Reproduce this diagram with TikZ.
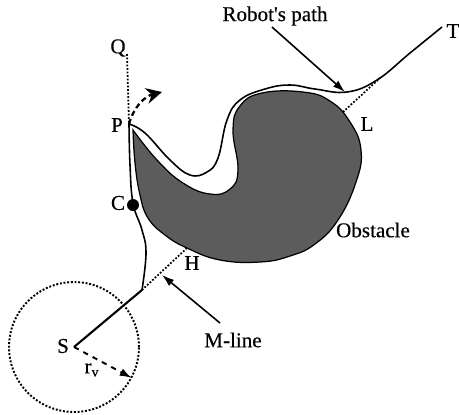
\documentclass[tikz,border=0pt]{standalone}
\usepackage{fontspec}
\setmainfont{Liberation Serif}
\newfontfamily\scanfont{Liberation Serif}[FakeBold=0.35]
\usetikzlibrary{arrows.meta,positioning,calc}

\begin{document}
\begin{tikzpicture}[
  x=0.02cm, y=-0.02cm,
  lbl/.style={inner sep=0pt, font=\scanfont\fontsize{12}{14}\selectfont},
  pathline/.style={line width=0.9pt, line join=round},
  mline/.style={densely dotted, line width=1pt},
  pointer/.style={-{Latex[length=7pt,width=4.5pt]}, line width=0.9pt},
  obstacle/.style={draw=black, line width=0.7pt, fill=black!64}
]
\useasboundingbox (0,0) rectangle (459,414);
% key points
\coordinate (S) at (74,347);
\coordinate (Leave) at (142,290);
\coordinate (H) at (187,248);
\coordinate (L) at (343,112);
\coordinate (Rejoin) at (380,78);
\coordinate (T) at (442,27);
\coordinate (P) at (129,124);
\coordinate (Qend) at (127,54);
\coordinate (Turn) at (162,92);
\coordinate (Rim) at (132,378);
% obstacle
\draw[obstacle] plot[smooth, tension=0.75] coordinates {(133,130) (157,160) (183,183) (210,194) (230,189) (238,170) (233,130) (240,106) (262,93) (303,92) (330,101) (350,122) (361,150) (356,182) (338,220) (315,244) (290,256) (260,262) (220,260) (187,248) (165,235) (148,218) (140,195) (135,163) (133,130)} -- cycle;
% robot's path
\draw[pathline] plot[smooth, tension=0.7] coordinates {(Leave) (146,253) (142,230) (133,203) (130,165) (P)};
\draw[pathline] plot[smooth, tension=0.7] coordinates {(P) (145,133) (170,160) (190,175) (207,172) (218,158) (227,120) (240,100) (265,89) (290,85) (315,89) (347,92) (377,80) (410,53) (T)};
\draw[pathline, line width=1.2pt] (S) -- (Leave);
% m-line and Q
\draw[mline] (Leave) -- (H);
\draw[mline] (L) -- (Rejoin);
\draw[mline] (Qend) -- (P);
\draw[densely dashed, line width=1.3pt, -{Stealth[length=9pt,width=9pt,inset=3pt]}] (P) to[bend left=30] (Turn);
% sensing circle
\node[draw, circle, densely dotted, line width=1.1pt, minimum size=2.6cm, inner sep=0pt] (range) at (S) {};
\draw[pointer, dashed, line width=1.1pt] (S) -- (Rim);
% point C
\node[circle, fill=black, minimum size=0.24cm, inner sep=0pt] (Cdot) at (133,205) {};
% labels
\node[lbl] (Qlbl) at (118,48) {Q};
\node[lbl] (Plbl) at (117,125) {P};
\node[lbl] (Clbl) at (118,203) {C};
\node[lbl] (Slbl) at (63,346) {S};
\node[lbl] (Hlbl) at (192,263) {H};
\node[lbl] (Llbl) at (367,124) {L};
\node[lbl] (Tlbl) at (453,31) {T};
\node[lbl] (rlbl) at (92,370) {r\textsubscript{v}};
\node[lbl] (Oblbl) at (373,230) {Obstacle};
\node[lbl] (Mlbl) at (233,340) {M-line};
\node[lbl] (Rlbl) at (275,16) {Robot's path};
% pointers
\coordinate (Mtip) at (162,275);
\coordinate (Rtip) at (345,92);
\draw[pointer] (Mlbl) ++(-13,-17) -- (Mtip);
\draw[pointer] (Rlbl) ++(-3,11) -- (Rtip);
\end{tikzpicture}
\end{document}
